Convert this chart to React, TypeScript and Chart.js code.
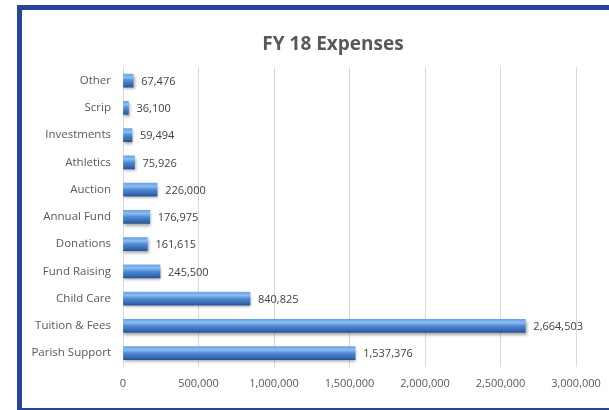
import React, { useEffect, useRef } from "react";
import { Chart, registerables } from "chart.js";

Chart.register(...registerables);

const categories = [
  "Other",
  "Scrip",
  "Investments",
  "Athletics",
  "Auction",
  "Annual Fund",
  "Donations",
  "Fund Raising",
  "Child Care",
  "Tuition & Fees",
  "Parish Support",
];
const expenses = [67476, 36100, 59494, 75926, 226000, 176975, 161615, 245500, 840825, 2664503, 1537376];
const axisMax = 3000000;
const axisStep = 500000;
const titleText = "FY 18 Expenses";

const FONT = "'Open Sans', 'Noto Sans', sans-serif";
const fmt = (v: number) => v.toLocaleString("en-US");
const FRAME = "#27439a";

const shadowPlugin = {
  id: "barShadow",
  beforeDatasetsDraw(chart: any) {
    const ctx = chart.ctx;
    ctx.save();
    ctx.shadowColor = "rgba(0,0,0,0.35)";
    ctx.shadowOffsetX = 1;
    ctx.shadowOffsetY = 2;
    ctx.shadowBlur = 3;
  },
  afterDatasetsDraw(chart: any) {
    chart.ctx.restore();
  },
};

const valueLabelPlugin = {
  id: "valueLabels",
  afterDatasetsDraw(chart: any) {
    const ctx = chart.ctx;
    const meta = chart.getDatasetMeta(0);
    ctx.save();
    ctx.font = `11px ${FONT}`;
    ctx.fillStyle = "#404040";
    ctx.textAlign = "left";
    ctx.textBaseline = "middle";
    meta.data.forEach((bar: any, i: number) => {
      const v = chart.data.datasets[0].data[i] as number;
      ctx.fillText(fmt(v), bar.x + 8, bar.y + 1);
    });
    ctx.restore();
  },
};

const centeredTitlePlugin = {
  id: "centeredTitle",
  afterDraw(chart: any) {
    const ctx = chart.ctx;
    ctx.save();
    ctx.font = `bold 19px ${FONT}`;
    ctx.fillStyle = "#595959";
    ctx.textAlign = "center";
    ctx.textBaseline = "middle";
    ctx.fillText(titleText, chart.width / 2, 35);
    ctx.restore();
  },
};

export default function App() {
  const ref = useRef<HTMLCanvasElement | null>(null);

  useEffect(() => {
    if (!ref.current) return;
    const chart = new Chart(ref.current, {
      type: "bar",
      data: {
        labels: categories,
        datasets: [
          {
            data: expenses,
            barThickness: 13,
            borderWidth: 0,
            backgroundColor: (c: any) => {
              const ch = c.chart;
              const ys = ch.scales && ch.scales.y;
              if (!ys || c.dataIndex === undefined) return "#4a86d0";
              const y = ys.getPixelForValue(c.dataIndex);
              if (!Number.isFinite(y)) return "#4a86d0";
              const g = ch.ctx.createLinearGradient(0, y - 6.5, 0, y + 6.5);
              g.addColorStop(0, "#6aa3e6");
              g.addColorStop(0.25, "#8cbcf0");
              g.addColorStop(0.5, "#4f8ad6");
              g.addColorStop(0.85, "#3568b0");
              g.addColorStop(1, "#2a5596");
              return g;
            },
          },
        ],
      },
      options: {
        indexAxis: "y",
        responsive: false,
        animation: false,
        layout: { padding: { left: 0, right: 68, top: 57, bottom: 8 } },
        plugins: {
          legend: { display: false },
          tooltip: { enabled: false },
          title: { display: false },
        },
        scales: {
          x: {
            min: 0,
            max: axisMax,
            ticks: {
              stepSize: axisStep,
              color: "#595959",
              font: { family: FONT, size: 11 },
              padding: 10,
              callback: (v: any) => fmt(Number(v)),
            },
            grid: { color: "#d9d9d9", drawTicks: false, lineWidth: 1 },
            border: { display: false },
          },
          y: {
            ticks: {
              color: "#595959",
              font: { family: FONT, size: 11.5 },
              padding: 12,
            },
            grid: { display: false, drawTicks: false },
            border: { display: false },
            afterFit: (s: any) => {
              s.width = 101;
            },
          },
        },
      },
      plugins: [shadowPlugin, valueLabelPlugin, centeredTitlePlugin],
    });
    return () => chart.destroy();
  }, []);

  return (
    <div
      style={{
        position: "fixed",
        left: 0,
        top: 0,
        width: 609,
        height: 410,
        overflow: "hidden",
        background: "#ffffff",
      }}
    >
      <div style={{ position: "absolute", left: 17, top: 5, width: 592, height: 5, background: FRAME }} />
      <div style={{ position: "absolute", left: 17, top: 5, width: 5, height: 405, background: FRAME }} />
      <div style={{ position: "absolute", left: 17, top: 408, width: 592, height: 2, background: FRAME }} />
      <canvas
        ref={ref}
        width={622}
        height={398}
        style={{ position: "absolute", left: 22, top: 10, width: 622, height: 398 }}
      />
    </div>
  );
}
